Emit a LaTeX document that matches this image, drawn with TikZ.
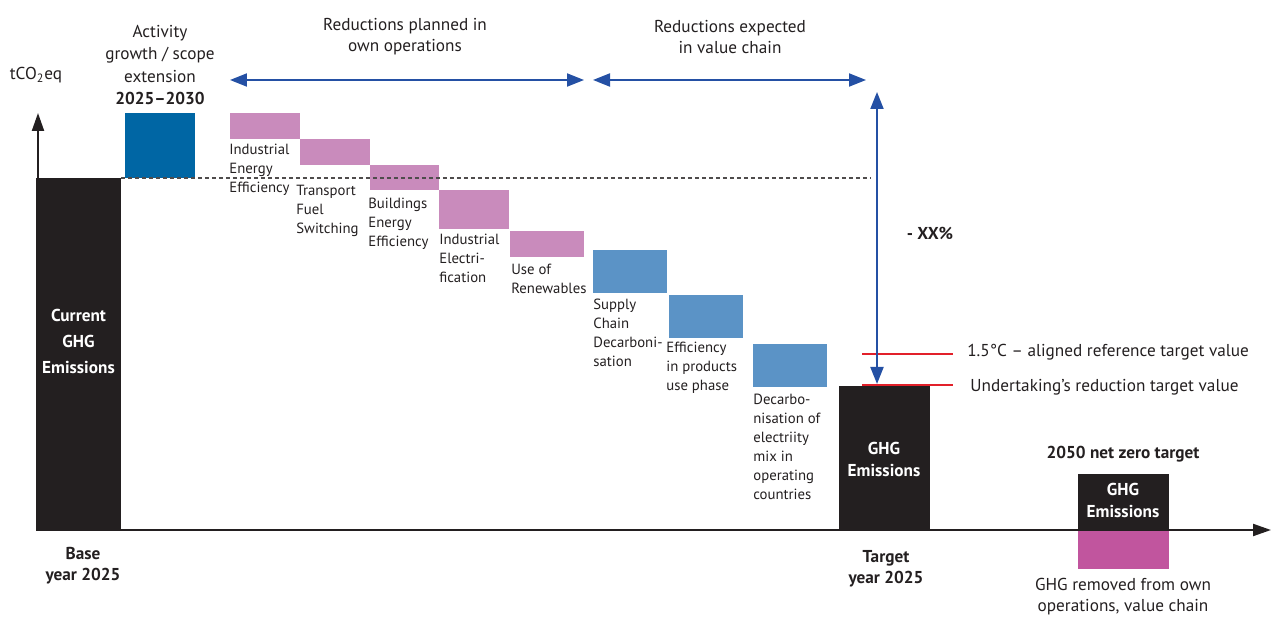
\documentclass[tikz,border=0pt]{standalone}
\usepackage{fontspec}
\setmainfont{PT Sans}
\usetikzlibrary{positioning, calc, arrows.meta}

\definecolor{ghgblack}{HTML}{231F20}
\definecolor{growthblue}{HTML}{0066A4}
\definecolor{ownpink}{HTML}{C98BBC}
\definecolor{chainblue}{HTML}{5B93C6}
\definecolor{spanblue}{HTML}{2450A4}
\definecolor{targetred}{HTML}{E2202A}
\definecolor{removedpink}{HTML}{C1559E}

\begin{document}
\begin{tikzpicture}[x=0.02cm, y=-0.02cm]
  \newcommand\pxlen{0.02cm}
  \newcommand\lblfont{\fontsize{8.4}{10.8}\selectfont}
  \newcommand\hdrfont{\fontsize{9.8}{12}\selectfont}

  \tikzset{bar/.style={inner sep=0, outer sep=0, anchor=north west}}
  \tikzset{ghgbar/.style={bar, fill=ghgblack}}
  \tikzset{ownbar/.style={bar, fill=ownpink}}
  \tikzset{chainbar/.style={bar, fill=chainblue}}
  \tikzset{barlbl/.style={anchor=north west, align=left, inner sep=0, text=ghgblack, font=\lblfont}}
  \tikzset{hdr/.style={align=center, inner sep=0, text=ghgblack, font=\hdrfont}}
  \tikzset{boldlbl/.style={hdr, font=\hdrfont\bfseries}}
  \tikzset{bartext/.style={boldlbl, text=white}}
  \tikzset{span/.style={{Triangle[length=0.34cm, width=0.26cm]}-{Triangle[length=0.34cm, width=0.26cm]}, spanblue, line width=1.1pt}}
  \tikzset{axis/.style={-{Triangle[length=0.36cm, width=0.24cm]}, ghgblack, line width=1.2pt}}
  \tikzset{targetline/.style={targetred, line width=1.4pt}}
  \tikzset{dashline/.style={ghgblack!80, line width=0.6pt, dash pattern=on 0.08cm off 0.06cm}}

  \useasboundingbox (0,0) rectangle (1271,617);

  % axes
  \coordinate (origin) at (38,530);
  \coordinate (ytip) at (38,113);
  \coordinate (xtip) at (1271,530);
  \draw[axis] (origin) -- (ytip);
  \draw[axis] (origin) -- (xtip);
  \node[hdr] (unit) at (36,75) {tCO\textsubscript{2}eq};

  % base year
  \node[ghgbar, minimum width=85*\pxlen, minimum height=353*\pxlen] (current) at (36,178) {};
  \node[bartext, font=\fontsize{9.8}{14.7}\selectfont\bfseries] (current-t) at ($(current.center)+(0,-13)$) {Current\\GHG\\Emissions};
  \node[boldlbl] (base-t) at (83,566) {Base\\year 2025};

  % growth
  \node[bar, fill=growthblue, minimum width=70*\pxlen, minimum height=65*\pxlen] (growth) at (125,113) {};
  \node[hdr, font=\fontsize{9.8}{12.8}\selectfont] (growth-t) at (160,65) {Activity\\growth / scope\\extension\\\textbf{2025--2030}};

  % own operations
  \foreach \i/\x/\y/\w/\h/\dx/\dy/\txt in {1/230/113/70/26/-1/5/{Industrial\\Energy\\Efficiency},
      2/300/139/70/26/-4/20/{Transport\\Fuel\\Switching},
      3/370/165/69/25/-2/8/{Buildings\\Energy\\Efficiency},
      4/439/190/70/39/0/5/{Industrial\\Electri-\\fication},
      5/510/231/74/26/1/7/{Use of\\Renewables}}{
    \node[ownbar, minimum width=\w*\pxlen, minimum height=\h*\pxlen] (own\i) at (\x,\y) {};
    \node[barlbl] (own\i-t) at ($(own\i.south west)+(\dx,\dy)$) {\txt};
  }

  % value chain
  \foreach \i/\x/\y/\w/\h/\dx/\dy/\txt in {1/593/250/74/43/0/6/{Supply\\Chain\\Decarboni-\\sation},
      2/669/295/74/43/-3/4/{Efficiency\\in products\\use phase},
      3/753/344/74/43/0/7/{Decarbo-\\nisation of\\electriity\\mix in\\operating\\countries}}{
    \node[chainbar, minimum width=\w*\pxlen, minimum height=\h*\pxlen] (chain\i) at (\x,\y) {};
    \node[barlbl] (chain\i-t) at ($(chain\i.south west)+(\dx,\dy)$) {\txt};
  }

  \coordinate (dash-end) at (870,178);
  \draw[dashline] (current.north east) -- (dash-end);

  % headers
  \node[hdr] (own-hdr) at (405,37) {Reductions planned in\\own operations};
  \node[hdr] (chain-hdr) at (730,37) {Reductions expected\\in value chain};
  \coordinate (own-l) at (230,80);
  \coordinate (own-r) at (584,80);
  \coordinate (chain-l) at (593,80);
  \coordinate (chain-r) at (866,80);
  \draw[span] (own-l) -- (own-r);
  \draw[span] (chain-l) -- (chain-r);

  % target year
  \node[ghgbar, minimum width=91*\pxlen, minimum height=145*\pxlen] (target) at (839,386) {};
  \node[bartext, font=\fontsize{9.8}{12.5}\selectfont\bfseries] (target-t) at (884,459) {GHG\\Emissions};
  \node[boldlbl] (target-yr) at (886,569) {Target\\year 2025};

  \coordinate (ref-l) at (862,354);
  \coordinate (ref-r) at (953,354);
  \coordinate (own-tl) at (862,385);
  \coordinate (own-tr) at (953,385);
  \draw[targetline] (ref-l) -- (ref-r);
  \draw[targetline] (own-tl) -- (own-tr);
  \node[hdr, anchor=west] (ref-t) at (967,352) {1.5°C -- aligned reference target value};
  \node[hdr, anchor=west] (own-tt) at (970,387) {Undertaking’s reduction target value};

  \coordinate (cut-top) at (877,92);
  \coordinate (cut-bot) at (877,384);
  \draw[span] (cut-top) -- (cut-bot);
  \node[boldlbl] (cut-t) at (930,233) {- XX\%};

  % net zero
  \node[ghgbar, minimum width=91*\pxlen, minimum height=57*\pxlen] (netzero) at (1078,474) {};
  \node[bar, fill=removedpink, minimum width=91*\pxlen, minimum height=38*\pxlen] (removed) at (netzero.south west) {};
  \node[bartext, font=\fontsize{9.8}{12.5}\selectfont\bfseries] (netzero-t) at (1123,500) {GHG\\Emissions};
  \node[boldlbl] (netzero-hdr) at (1123,454) {2050 net zero target};
  \node[hdr] (removed-t) at (1123,597) {GHG removed from own\\operations, value chain};
\end{tikzpicture}
\end{document}
